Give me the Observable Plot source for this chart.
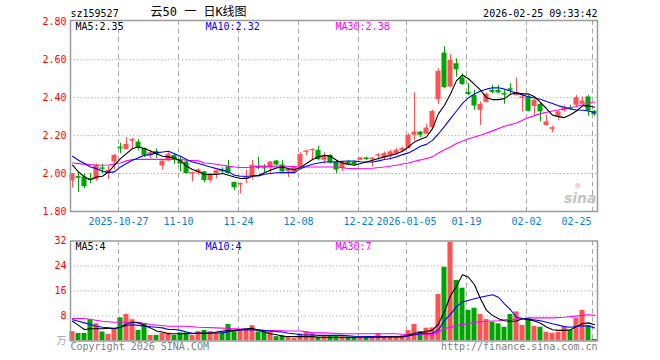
<!DOCTYPE html>
<html><head><meta charset="utf-8">
<script src="https://cdn.jsdelivr.net/npm/d3@7"></script>
<script src="https://cdn.jsdelivr.net/npm/@observablehq/plot@0.6"></script>
<style>
body{margin:0;background:#fff;}
#wrap{position:relative;width:660px;height:360px;overflow:hidden;background:#fff;}
#wrap svg{position:absolute;left:0;top:0;max-width:none;}
</style></head><body><div id="wrap"></div>
<script>
// ---------- data ----------
const tickIdx    = [8, 18, 28, 38, 48, 56, 66, 76, 87];
const tickLabels = ["2025-10-27","11-10","11-24","12-08","12-22","2026-01-05","01-19","02-02","02-25"];
const priceTicks = [1.8, 2.0, 2.2, 2.4, 2.6, 2.8];
const priceGrid  = [2.0, 2.2, 2.4, 2.6];
const volTicks   = [8, 16, 24, 32];
const volGrid    = [8, 16, 24];
const volUnit    = "万";

const opens = [1.961,1.985,1.982,1.972,1.968,2.03,2.00,2.061,2.14,2.126,
2.172,2.166,2.132,2.096,2.117,2.04,2.066,2.095,2.074,2.061,
1.998,2.003,2.009,1.963,1.992,2.018,2.035,1.953,1.94,1.968,
1.984,2.038,2.033,2.03,2.066,2.045,2.009,2.004,2.036,2.114,
2.124,2.123,2.07,2.096,2.061,2.026,2.061,2.061,2.07,2.082,
2.074,2.094,2.084,2.096,2.105,2.119,2.132,2.202,2.219,2.207,
2.242,2.389,2.635,2.456,2.579,2.505,2.428,2.412,2.333,2.375,
2.439,2.439,2.424,2.447,2.412,2.395,2.404,2.354,2.365,2.254,
2.233,2.298,2.33,2.348,2.36,2.365,2.404,2.328];
const highs = [2.00,2.005,1.997,2.00,2.05,2.049,2.038,2.10,2.16,2.19,
2.185,2.18,2.135,2.123,2.13,2.067,2.11,2.105,2.087,2.068,
2.008,2.025,2.012,2.0,2.017,2.03,2.07,1.955,1.95,2.017,
2.07,2.087,2.047,2.064,2.07,2.07,2.022,2.037,2.11,2.123,
2.13,2.144,2.11,2.10,2.07,2.065,2.07,2.065,2.084,2.087,
2.084,2.105,2.114,2.123,2.132,2.14,2.21,2.425,2.222,2.26,
2.332,2.553,2.67,2.628,2.605,2.526,2.474,2.439,2.377,2.425,
2.465,2.465,2.439,2.474,2.505,2.412,2.412,2.39,2.37,2.307,
2.249,2.33,2.36,2.36,2.412,2.404,2.412,2.333];
const lows = [1.924,1.90,1.921,1.947,1.96,2.00,1.968,2.02,2.105,2.125,
2.13,2.12,2.084,2.08,2.08,2.017,2.065,2.05,2.008,1.998,
1.956,1.99,1.951,1.951,1.972,1.995,1.995,1.909,1.893,1.947,
1.966,2.021,2.003,2.0,2.04,2.005,1.979,2.0,2.03,2.093,
2.067,2.067,2.049,2.05,2.0,2.009,2.04,2.04,2.068,2.068,
2.035,2.07,2.07,2.07,2.096,2.11,2.13,2.172,2.189,2.205,
2.238,2.363,2.447,2.455,2.509,2.465,2.412,2.333,2.254,2.372,
2.42,2.42,2.365,2.416,2.41,2.325,2.325,2.307,2.272,2.25,
2.214,2.281,2.325,2.333,2.351,2.36,2.302,2.302];
const closes = [2.00,1.980,1.930,1.968,2.044,2.025,2.017,2.096,2.135,2.154,
2.178,2.137,2.096,2.11,2.10,2.066,2.10,2.074,2.05,2.00,
2.005,2.02,1.963,1.998,2.015,2.014,2.0,1.925,1.948,1.984,
2.044,2.027,2.03,2.061,2.045,2.009,2.021,2.035,2.10,2.118,
2.127,2.074,2.088,2.056,2.018,2.061,2.044,2.046,2.082,2.074,
2.082,2.098,2.105,2.114,2.123,2.132,2.202,2.219,2.202,2.24,
2.328,2.539,2.453,2.596,2.547,2.47,2.422,2.356,2.365,2.418,
2.428,2.425,2.419,2.442,2.426,2.404,2.328,2.386,2.325,2.272,
2.242,2.325,2.347,2.344,2.40,2.382,2.33,2.31];
const volumes = [3.0,2.4,2.4,6.8,5.5,2.9,2.1,3.9,7.4,8.5,
6.8,3.4,5.5,1.8,1.8,2.5,2.5,1.8,2.6,2.6,
1.8,3.0,3.4,3.0,2.5,2.6,5.3,3.0,3.6,3.6,
4.9,2.9,3.0,3.0,1.4,1.8,1.4,0.8,2.3,3.0,
2.3,1.2,1.4,1.4,1.4,1.3,1.2,1.2,1.0,1.0,
1.0,2.3,1.4,1.4,1.4,1.7,3.3,5.3,3.0,4.1,
4.2,14.9,23.6,31.6,19.4,16.9,9.8,10.5,8.5,6.9,
6.0,5.5,4.4,8.5,9.3,5.0,7.1,4.7,4.4,2.8,
2.5,2.8,4.4,3.4,7.3,9.8,5.0,0.5];

const ma5 = [2.044,2.009,1.982,1.968,1.982,1.986,2.009,2.044,2.079,2.105,
2.132,2.14,2.132,2.119,2.105,2.091,2.088,2.082,2.067,2.039,
2.021,2.009,1.996,1.995,1.995,2.0,1.991,1.982,1.974,1.974,
1.986,1.991,2.004,2.018,2.03,2.035,2.026,2.02,2.032,2.053,
2.074,2.088,2.096,2.091,2.07,2.056,2.049,2.044,2.053,2.061,
2.07,2.079,2.088,2.096,2.105,2.118,2.14,2.167,2.181,2.193,
2.237,2.316,2.36,2.42,2.49,2.52,2.50,2.47,2.44,2.40,
2.39,2.39,2.395,2.418,2.426,2.42,2.42,2.405,2.375,2.343,
2.308,2.30,2.295,2.31,2.33,2.357,2.358,2.35];
const ma10 = [2.091,2.07,2.053,2.035,2.026,2.012,2.005,2.009,2.035,2.053,
2.07,2.084,2.096,2.10,2.109,2.114,2.118,2.105,2.091,2.074,
2.061,2.053,2.044,2.035,2.026,2.018,2.009,1.991,1.986,1.986,
1.987,1.988,1.996,2.0,2.004,2.005,2.005,2.005,2.026,2.039,
2.049,2.056,2.061,2.061,2.061,2.065,2.066,2.066,2.062,2.061,
2.061,2.067,2.074,2.079,2.088,2.10,2.109,2.126,2.144,2.154,
2.175,2.21,2.249,2.29,2.33,2.37,2.40,2.42,2.435,2.445,
2.452,2.452,2.445,2.435,2.423,2.415,2.405,2.398,2.392,2.38,
2.369,2.357,2.35,2.34,2.335,2.334,2.33,2.322];
// [day index, value] samples
const ma30 = [[0,2.056],[2,2.05],[4,2.044],[6,2.045],[7,2.05],[8,2.056],[9,2.067],[10,2.074],[12,2.075],[16,2.075],[18,2.074],[19,2.07],[21,2.067],[22,2.056],[23,2.053],[24,2.049],[25,2.044],[26,2.039],[27,2.035],[28,2.032],[29,2.032],[30,2.035],[31,2.039],[33,2.038],[35,2.04],[38,2.035],[44,2.035],[46,2.027],[50,2.028],[52,2.035],[54,2.044],[55,2.05],[56,2.056],[57,2.065],[58,2.072],[60,2.088],[61,2.109],[62,2.125],[63,2.14],[64,2.158],[66,2.184],[68,2.202],[70,2.225],[72,2.249],[74,2.267],[76,2.295],[78,2.316],[80,2.33],[82,2.342],[84,2.354],[86,2.372],[87,2.377]];
const volMa5 = [[0,6.3],[1,5.0],[2,3.7],[3,3.9],[5,3.9],[6,4.1],[7,4.1],[8,4.4],[9,5.5],[10,6.0],[11,5.8],[12,5.0],[13,4.2],[14,3.2],[15,2.9],[16,2.3],[19,2.3],[21,2.5],[23,2.5],[24,2.9],[26,3.4],[27,3.4],[28,3.7],[29,3.9],[30,4.1],[31,3.4],[32,2.9],[33,2.3],[34,2.0],[35,1.5],[37,1.4],[40,1.4],[41,1.2],[48,1.2],[50,1.2],[55,1.4],[57,2.5],[59,3.0],[60,3.5],[61,5.5],[62,9.5],[63,14.5],[64,17.5],[65,21.2],[66,20.4],[67,18.0],[68,13.5],[69,9.8],[70,8.2],[71,7.1],[72,6.5],[73,6.3],[74,6.4],[75,7.1],[76,6.8],[77,6.4],[78,5.7],[79,4.5],[80,3.6],[81,3.4],[82,3.4],[83,3.6],[84,4.6],[85,5.6],[86,5.8],[87,5.2]];
const volMa10 = [[0,6.8],[1,6.3],[2,5.8],[3,5.3],[4,4.7],[5,4.4],[6,4.2],[7,3.9],[8,4.4],[9,5.0],[10,5.2],[11,5.0],[12,4.7],[14,4.4],[15,4.2],[16,3.7],[17,3.7],[18,3.4],[19,2.9],[20,2.5],[25,2.6],[26,3.0],[27,3.4],[29,3.6],[31,3.5],[33,3.2],[34,3.0],[35,2.9],[36,2.5],[37,2.3],[38,2.0],[40,1.9],[41,1.8],[45,1.8],[47,1.5],[55,1.3],[58,2.3],[60,2.5],[61,3.6],[62,6.5],[63,8.5],[64,11.0],[65,12.5],[67,13.5],[68,14.0],[70,14.8],[71,14.0],[72,11.9],[73,10.0],[74,7.6],[75,7.2],[76,7.0],[78,6.5],[80,5.5],[82,4.6],[83,4.4],[85,4.9],[86,4.8],[87,4.2]];
const volMa30 = [[0,7.2],[2,7.2],[5,6.3],[7,6.0],[11,6.0],[13,5.3],[16,4.7],[19,4.7],[21,4.4],[24,4.2],[27,3.9],[30,3.7],[32,3.4],[36,3.2],[38,3.2],[40,2.6],[42,2.6],[45,2.3],[54,2.3],[56,2.0],[60,2.0],[61,2.9],[62,3.9],[64,5.0],[66,5.5],[67,6.0],[69,6.3],[71,6.5],[72,6.8],[75,7.1],[76,7.4],[80,7.4],[82,7.6],[85,8.2],[86,8.4],[87,8.2]];

const priceLabels = ["MA5:2.35", "MA10:2.32", "MA30:2.38"];
const volLabels   = ["MA5:4", "MA10:4", "MA30:7"];
const header = {code: "sz159527", title: "云50 一 日K线图", time: "2026-02-25 09:33:42"};
const footer = {left: "Copyright 2026 SINA.COM", right: "http://finance.sina.com.cn"};

// ---------- style ----------
const RED = "#ff5252", GREEN = "#00a400", BLUE = "#0000ff", MAG = "#ff00ff";
const DATE = "#0a7dd2", GRID = "#a8a8a8", FRAME = "#9a9a9a", TXTGRAY = "#808080";
const FONT = "'DejaVu Sans Mono', 'Noto Sans CJK SC', monospace";
const n = closes.length;
const idx = d3.range(n);
const col = i => closes[i] >= opens[i] ? RED : GREEN;
const half = 0.42;
const xDomain = [-1/3, n - 0.5];
const common = {width: 660, height: 360, marginLeft: 70, marginRight: 63,
  color: {type: "identity"},
  style: {fontFamily: FONT, fontSize: "10px", background: "none", overflow: "visible"}};
const maMarks = (labels) => [
  Plot.text([labels[0]], {frameAnchor: "top-left", dx: 5, dy: 6, lineAnchor: "middle", textAnchor: "start", fill: "#000", fontSize: 10}),
  Plot.text([labels[1]], {frameAnchor: "top-left", dx: 135, dy: 6, lineAnchor: "middle", textAnchor: "start", fill: BLUE, fontSize: 10}),
  Plot.text([labels[2]], {frameAnchor: "top-left", dx: 265, dy: 6, lineAnchor: "middle", textAnchor: "start", fill: MAG, fontSize: 10})
];
const dateGrid = () => Plot.ruleX(tickIdx, {x: d => d, dx: -2, stroke: GRID, strokeDasharray: "5,3.5"});

const price = Plot.plot({
  ...common, marginTop: 20, marginBottom: 149,
  x: {domain: xDomain, axis: null},
  y: {domain: [1.8, 2.807], axis: null},
  marks: [
    Plot.ruleY(priceGrid, {stroke: GRID, strokeDasharray: "1.2,2.3"}),
    dateGrid(),
    // sina watermark
    Plot.text(["●"], {frameAnchor: "bottom-right", dx: -17, dy: -24, fill: "#f4a0a0", fillOpacity: 0.5, fontSize: 9}),
    Plot.text(["sina"], {frameAnchor: "bottom-right", dx: -1, dy: -9, textAnchor: "end", fill: "#c4c4c4", fontSize: 14, fontWeight: "bold", fontStyle: "italic", fontFamily: "'DejaVu Sans', sans-serif"}),
    Plot.ruleX(idx, {x: i => i, y1: i => lows[i], y2: i => highs[i], stroke: col}),
    Plot.rect(idx, {x1: i => i - half, x2: i => i + half, y1: i => opens[i], y2: i => closes[i], fill: col}),
    Plot.ruleY(idx.filter(i => Math.abs(opens[i] - closes[i]) < 0.008),
      {x1: i => i - half, x2: i => i + half, y: i => closes[i], stroke: col}),
    Plot.line(ma30, {x: d => d[0], y: d => d[1], stroke: MAG, strokeWidth: 1.1}),
    Plot.line(idx, {x: i => i, y: i => ma10[i], stroke: BLUE, strokeWidth: 1.1}),
    Plot.line(idx, {x: i => i, y: i => ma5[i], stroke: "#000", strokeWidth: 1.1}),
    Plot.frame({stroke: FRAME, strokeWidth: 1.5}),
    Plot.axisY(priceTicks, {tickSize: 0, tickPadding: 4, tickFormat: d3.format(".2f"), fill: "#ff0000", fontSize: 10, label: null}),
    Plot.text(tickIdx.slice(0, -1), {x: d => d, text: (d, i) => tickLabels[i], frameAnchor: "bottom", dx: -2, dy: 10, lineAnchor: "middle", fill: DATE, fontSize: 10}),
    Plot.text(tickIdx.slice(-1), {x: d => d, text: tickLabels.slice(-1), frameAnchor: "bottom", dx: -3, dy: 10, lineAnchor: "middle", textAnchor: "end", fill: DATE, fontSize: 10}),
    ...maMarks(priceLabels),
    Plot.text([header.code], {frameAnchor: "top-left", dy: -7, lineAnchor: "middle", textAnchor: "start", fill: "#000", fontSize: 10}),
    Plot.text([header.title], {frameAnchor: "top-left", dx: 80, dy: -8, lineAnchor: "middle", textAnchor: "start", fill: "#000", fontSize: 12}),
    Plot.text([header.time], {frameAnchor: "top-right", dy: -7, lineAnchor: "middle", textAnchor: "end", fill: "#000", fontSize: 10})
  ]
});

const vol = Plot.plot({
  ...common, marginTop: 240.5, marginBottom: 19.5,
  x: {domain: xDomain, axis: null},
  y: {domain: [0, 32], axis: null},
  marks: [
    Plot.ruleY(volGrid, {stroke: GRID, strokeDasharray: "1.2,2.3"}),
    dateGrid(),
    Plot.rect(idx, {x1: i => i - half, x2: i => i + half, y1: 0, y2: i => volumes[i], fill: col}),
    Plot.line(volMa30, {x: d => d[0], y: d => d[1], stroke: MAG, strokeWidth: 1.1}),
    Plot.line(volMa10, {x: d => d[0], y: d => d[1], stroke: BLUE, strokeWidth: 1.1}),
    Plot.line(volMa5, {x: d => d[0], y: d => d[1], stroke: "#000", strokeWidth: 1.1}),
    Plot.frame({stroke: FRAME, strokeWidth: 1.5}),
    Plot.axisY(volTicks, {tickSize: 0, tickPadding: 4, fill: "#ff0000", fontSize: 10, label: null}),
    Plot.axisY([0], {tickSize: 0, tickPadding: 4, tickFormat: () => volUnit, fill: "#a0a0a0", fontSize: 10, label: null}),
    ...maMarks(volLabels),
    Plot.text([footer.left], {frameAnchor: "bottom-left", dy: 6, lineAnchor: "middle", textAnchor: "start", fill: TXTGRAY, fontSize: 10}),
    Plot.text([footer.right], {frameAnchor: "bottom-right", dy: 6, lineAnchor: "middle", textAnchor: "end", fill: TXTGRAY, fontSize: 10})
  ]
});

const wrap = document.getElementById("wrap");
wrap.appendChild(price);
wrap.appendChild(vol);
</script></body></html>
